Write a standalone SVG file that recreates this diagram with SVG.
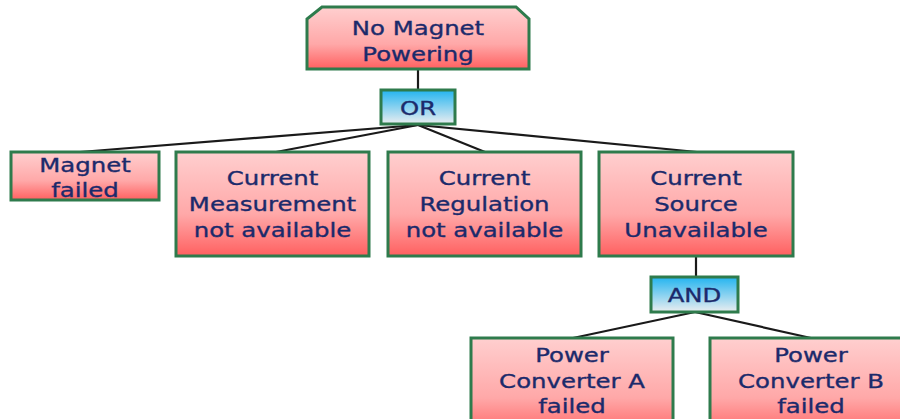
<svg xmlns="http://www.w3.org/2000/svg" width="900" height="419" viewBox="0 0 900 419">
<defs>
<linearGradient id="red" x1="0" y1="0" x2="0" y2="1">
<stop offset="0" stop-color="#ffcfcf"/>
<stop offset="0.6" stop-color="#ffa8a8"/>
<stop offset="1" stop-color="#ff6060"/>
</linearGradient>
<linearGradient id="blue" x1="0" y1="0" x2="0" y2="1">
<stop offset="0" stop-color="#22b4f0"/>
<stop offset="1" stop-color="#eceef0"/>
</linearGradient>
</defs>
<style>
.box{fill:url(#red);stroke:#2e7b4c;stroke-width:3}
.gate{fill:url(#blue);stroke:#2e7b4c;stroke-width:3}
.t{font-family:"DejaVu Sans",Verdana,sans-serif;font-size:19.5px;fill:#1b2a6b;stroke:#1b2a6b;stroke-width:0.35;text-anchor:middle}
.c{stroke:#1a1a1a;stroke-width:2.2;fill:none}
</style>
<g id="connectors">
<line class="c" x1="418" y1="69" x2="418" y2="90"/>
<line class="c" x1="418" y1="125" x2="80" y2="152"/>
<line class="c" x1="418" y1="125" x2="276" y2="152"/>
<line class="c" x1="418" y1="125" x2="485" y2="152"/>
<line class="c" x1="418" y1="125" x2="697" y2="152"/>
<line class="c" x1="696" y1="256" x2="696" y2="277"/>
<line class="c" x1="695" y1="312" x2="573" y2="338"/>
<line class="c" x1="695" y1="312" x2="811" y2="338"/>
</g>
<g id="top">
<path class="box" d="M307,69 L307,19 L322,7 L516,7 L529,19 L529,69 Z"/>
<text class="t" transform="matrix(1.25 0 0 1 418 0)" x="0" y="35">No Magnet</text>
<text class="t" transform="matrix(1.25 0 0 1 418 0)" x="0" y="61">Powering</text>
</g>
<g id="or">
<rect class="gate" x="381" y="90" width="74" height="34"/>
<text class="t" transform="matrix(1.25 0 0 1 418 0)" x="0" y="115">OR</text>
</g>
<g id="magnet">
<rect class="box" x="11" y="152" width="148" height="48"/>
<text class="t" transform="matrix(1.25 0 0 1 85 0)" x="0" y="172">Magnet</text>
<text class="t" transform="matrix(1.25 0 0 1 85 0)" x="0" y="197">failed</text>
</g>
<g id="measurement">
<rect class="box" x="176" y="152" width="193" height="104"/>
<text class="t" transform="matrix(1.25 0 0 1 272.5 0)" x="0" y="185">Current</text>
<text class="t" transform="matrix(1.25 0 0 1 272.5 0)" x="0" y="211">Measurement</text>
<text class="t" transform="matrix(1.25 0 0 1 272.5 0)" x="0" y="237">not available</text>
</g>
<g id="regulation">
<rect class="box" x="388" y="152" width="193" height="104"/>
<text class="t" transform="matrix(1.25 0 0 1 484.5 0)" x="0" y="185">Current</text>
<text class="t" transform="matrix(1.25 0 0 1 484.5 0)" x="0" y="211">Regulation</text>
<text class="t" transform="matrix(1.25 0 0 1 484.5 0)" x="0" y="237">not available</text>
</g>
<g id="source">
<rect class="box" x="599" y="152" width="194" height="104"/>
<text class="t" transform="matrix(1.25 0 0 1 696 0)" x="0" y="185">Current</text>
<text class="t" transform="matrix(1.25 0 0 1 696 0)" x="0" y="211">Source</text>
<text class="t" transform="matrix(1.25 0 0 1 696 0)" x="0" y="237">Unavailable</text>
</g>
<g id="and">
<rect class="gate" x="651" y="277" width="87" height="35"/>
<text class="t" transform="matrix(1.25 0 0 1 694.5 0)" x="0" y="302">AND</text>
</g>
<g id="pca">
<rect class="box" x="471" y="338" width="202" height="100"/>
<text class="t" transform="matrix(1.25 0 0 1 572 0)" x="0" y="362">Power</text>
<text class="t" transform="matrix(1.25 0 0 1 572 0)" x="0" y="388">Converter A</text>
<text class="t" transform="matrix(1.25 0 0 1 572 0)" x="0" y="413">failed</text>
</g>
<g id="pcb">
<rect class="box" x="710" y="338" width="202" height="100"/>
<text class="t" transform="matrix(1.25 0 0 1 811 0)" x="0" y="362">Power</text>
<text class="t" transform="matrix(1.25 0 0 1 811 0)" x="0" y="388">Converter B</text>
<text class="t" transform="matrix(1.25 0 0 1 811 0)" x="0" y="413">failed</text>
</g>
</svg>
